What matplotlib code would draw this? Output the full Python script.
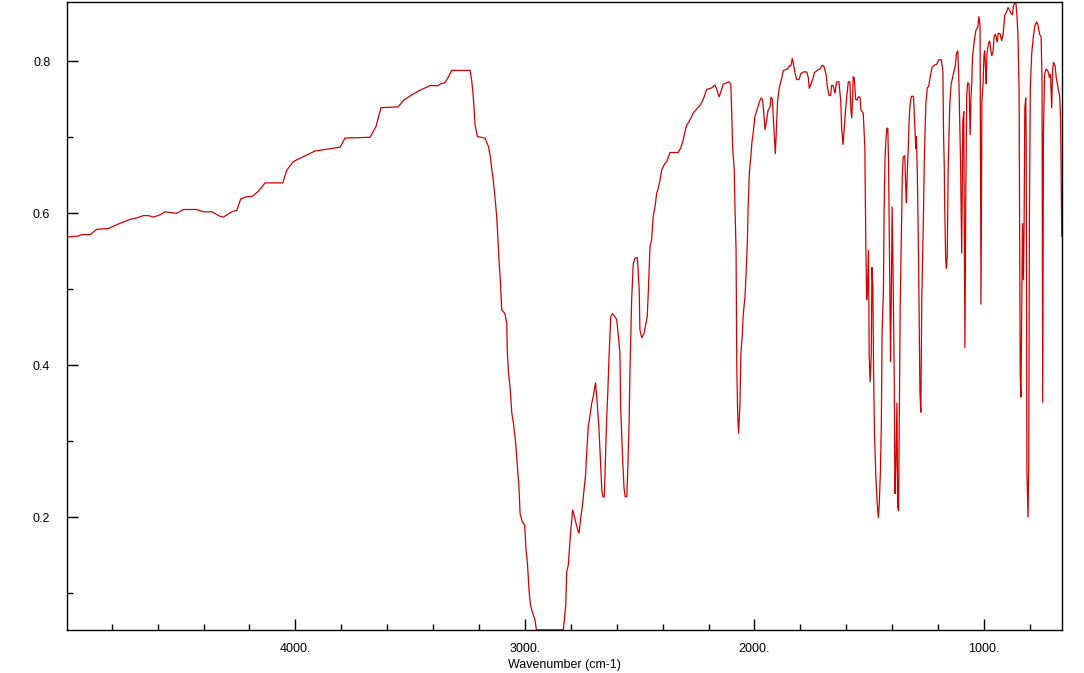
import matplotlib
matplotlib.use("Agg")
import matplotlib.pyplot as plt
from matplotlib.ticker import MultipleLocator, FormatStrFormatter

# spectrum (wavenumber in cm-1, signal)
wavenumber = [
    4991, 4947, 4930, 4894, 4865, 4815, 4771, 4720, 4691, 4662,
    4640, 4619, 4589, 4568, 4517, 4488, 4430, 4401, 4364, 4328,
    4314, 4277, 4255, 4238, 4212, 4190, 4161, 4132, 4055, 4037,
    4009, 3983, 3914, 3805, 3784, 3675, 3649, 3627, 3553, 3527,
    3492, 3457, 3413, 3377, 3370, 3348, 3334, 3319, 3239, 3232,
    3225, 3217, 3207, 3174, 3159, 3152, 3145, 3138, 3130, 3123,
    3118, 3113, 3108, 3104, 3101, 3087, 3079, 3077, 3072, 3065,
    3057, 3050, 3040, 3031, 3026, 3021, 3011, 3001, 2995, 2989,
    2982, 2976, 2966, 2956, 2950, 2833, 2828, 2822, 2818, 2811,
    2806, 2800, 2792, 2786, 2774, 2764, 2757, 2750, 2742, 2735,
    2731, 2724, 2716, 2709, 2702, 2695, 2692, 2685, 2677, 2671,
    2665, 2660, 2654, 2651, 2647, 2644, 2639, 2634, 2626, 2619,
    2612, 2600, 2591, 2586, 2583, 2578, 2574, 2568, 2563, 2556,
    2551, 2546, 2543, 2539, 2535, 2528, 2520, 2510, 2506, 2502,
    2499, 2491, 2481, 2474, 2467, 2462, 2455, 2448, 2441, 2433,
    2426, 2419, 2411, 2404, 2393, 2382, 2368, 2332, 2321, 2310,
    2303, 2295, 2284, 2266, 2252, 2237, 2223, 2208, 2186, 2172,
    2164, 2154, 2143, 2136, 2111, 2103, 2099, 2095, 2088, 2085,
    2080, 2077, 2073, 2069, 2063, 2059, 2053, 2049, 2041, 2037,
    2031, 2027, 2022, 2015, 2011, 2005, 1998, 1990, 1980, 1971,
    1964, 1958, 1954, 1947, 1941, 1932, 1928, 1922, 1918, 1914,
    1909, 1905, 1899, 1892, 1881, 1874, 1855, 1848, 1841, 1835,
    1828, 1822, 1816, 1806, 1797, 1787, 1772, 1765, 1761, 1755,
    1744, 1739, 1722, 1714, 1704, 1697, 1688, 1683, 1675, 1668,
    1664, 1657, 1649, 1642, 1632, 1624, 1620, 1614, 1609, 1604,
    1598, 1591, 1584, 1580, 1576, 1572, 1570, 1565, 1559, 1552,
    1548, 1540, 1536, 1526, 1519, 1515, 1511, 1508, 1503, 1500,
    1496, 1491, 1488, 1484, 1481, 1477, 1471, 1465, 1460, 1456,
    1451, 1447, 1444, 1438, 1435, 1431, 1427, 1423, 1419, 1416,
    1412, 1407, 1404, 1400, 1396, 1391, 1388, 1384, 1379, 1376,
    1372, 1369, 1365, 1360, 1356, 1352, 1345, 1341, 1338, 1334,
    1329, 1326, 1322, 1316, 1307, 1301, 1297, 1294, 1290, 1285,
    1279, 1275, 1271, 1264, 1260, 1256, 1253, 1247, 1241, 1235,
    1226, 1216, 1206, 1197, 1186, 1179, 1176, 1173, 1171, 1167,
    1164, 1160, 1156, 1149, 1143, 1135, 1125, 1120, 1114, 1109,
    1102, 1097, 1092, 1088, 1083, 1079, 1075, 1071, 1065, 1060,
    1056, 1053, 1050, 1042, 1035, 1027, 1022, 1017, 1016, 1013,
    1009, 1004, 1000, 997, 992, 990, 987, 981, 975, 970,
    966, 960, 956, 950, 942, 938, 930, 923, 916, 909,
    901, 895, 888, 882, 876, 872, 867, 861, 857, 852,
    847, 842, 839, 836, 832, 828, 825, 822, 818, 816,
    813, 808, 805, 802, 798, 792, 785, 778, 770, 764,
    758, 751, 747, 744, 741, 736, 729, 721, 714, 710,
    705, 701, 697, 690, 685, 677, 670, 666, 661, 655,
]
signal = [
    .569, .570, .572, .572, .579, .580, .586, .592, .594, .597,
    .597, .595, .598, .602, .600, .605, .605, .602, .602, .596,
    .595, .602, .604, .619, .622, .622, .629, .640, .640, .657,
    .668, .672, .682, .687, .699, .700, .714, .739, .740, .749,
    .756, .762, .768, .768, .770, .772, .779, .788, .788, .775,
    .754, .716, .701, .699, .688, .677, .661, .644, .620, .596,
    .569, .539, .517, .490, .473, .468, .455, .420, .392, .372,
    .337, .324, .297, .260, .240, .205, .194, .190, .157, .140,
    .104, .085, .074, .065, .052, .052, .065, .085, .128, .137,
    .159, .183, .210, .203, .188, .179, .199, .214, .238, .258,
    .284, .319, .335, .350, .359, .373, .377, .350, .315, .275,
    .236, .227, .227, .258, .297, .328, .363, .407, .464, .468,
    .466, .460, .433, .416, .346, .308, .275, .238, .227, .227,
    .271, .324, .381, .433, .486, .534, .541, .542, .521, .499,
    .447, .436, .442, .453, .464, .499, .556, .565, .596, .609,
    .626, .633, .644, .657, .664, .668, .680, .680, .686, .697,
    .707, .716, .721, .732, .737, .742, .750, .763, .765, .769,
    .763, .753, .763, .770, .773, .770, .732, .687, .657, .612,
    .551, .400, .335, .310, .350, .415, .440, .466, .491, .516,
    .561, .612, .654, .677, .693, .707, .727, .735, .745, .752,
    .749, .727, .710, .722, .735, .740, .753, .750, .727, .702,
    .678, .707, .748, .765, .778, .788, .790, .794, .794, .804,
    .793, .783, .776, .776, .784, .786, .786, .778, .764, .769,
    .778, .785, .789, .790, .795, .793, .783, .768, .755, .755,
    .768, .768, .758, .773, .773, .748, .712, .690, .712, .732,
    .753, .773, .773, .737, .725, .753, .780, .778, .750, .749,
    .753, .753, .736, .732, .687, .566, .486, .498, .552, .414,
    .378, .414, .529, .503, .396, .311, .253, .218, .199, .218,
    .262, .325, .440, .498, .605, .672, .698, .712, .712, .672,
    .560, .405, .480, .609, .520, .387, .231, .267, .351, .213,
    .209, .329, .476, .574, .645, .674, .676, .636, .614, .654,
    .694, .723, .743, .754, .754, .714, .685, .701, .647, .543,
    .365, .338, .485, .592, .667, .716, .745, .765, .767, .778,
    .792, .795, .796, .802, .802, .787, .703, .663, .609, .543,
    .527, .543, .658, .743, .770, .781, .794, .810, .814, .772,
    .667, .547, .721, .734, .423, .630, .756, .772, .770, .703,
    .756, .772, .805, .827, .841, .845, .859, .847, .747, .480,
    .747, .770, .807, .814, .785, .770, .810, .823, .827, .814,
    .807, .814, .832, .836, .825, .837, .836, .827, .837, .861,
    .865, .871, .867, .863, .861, .872, .876, .877, .863, .836,
    .761, .387, .358, .454, .587, .512, .592, .738, .752, .694,
    .262, .200, .267, .592, .765, .810, .832, .847, .852, .847,
    .836, .832, .774, .351, .703, .783, .790, .787, .778, .783,
    .738, .787, .799, .794, .778, .765, .754, .721, .569, .689,
]
assert len(wavenumber) == len(signal)

x_range = (4995, 660)
y_range = (0.0518, 0.878)

plt.rcParams['font.family'] = ['Liberation Sans', 'DejaVu Sans']

fig = plt.figure(figsize=(10.84, 6.73), dpi=100)
ax = fig.add_axes([67/1084, 1 - 630/673, 995/1084, 628/673])

ax.plot(wavenumber, signal, color="#d40000", lw=0.9, solid_joinstyle="miter")
ax.set_xlim(*x_range)
ax.set_ylim(*y_range)

ax.xaxis.set_major_locator(MultipleLocator(1000))
ax.xaxis.set_minor_locator(MultipleLocator(200))
ax.xaxis.set_major_formatter(FormatStrFormatter("%d."))
ax.yaxis.set_major_locator(MultipleLocator(0.2))
ax.yaxis.set_minor_locator(MultipleLocator(0.1))
ax.yaxis.set_major_formatter(FormatStrFormatter("%.1f"))

ax.tick_params(which="both", direction="in", top=False, right=False, color="black", width=1)
ax.tick_params(which="major", length=8, labelsize=9)
ax.tick_params(which="minor", length=4)
ax.tick_params(axis="y", which="major", pad=12)
ax.tick_params(axis="x", which="major", pad=9)
for s in ax.spines.values():
    s.set_linewidth(1)
    s.set_color("black")

ax.set_xlabel("Wavenumber (cm-1)", fontsize=9, labelpad=3)

fig.savefig("out.png", dpi=100, facecolor="white")
